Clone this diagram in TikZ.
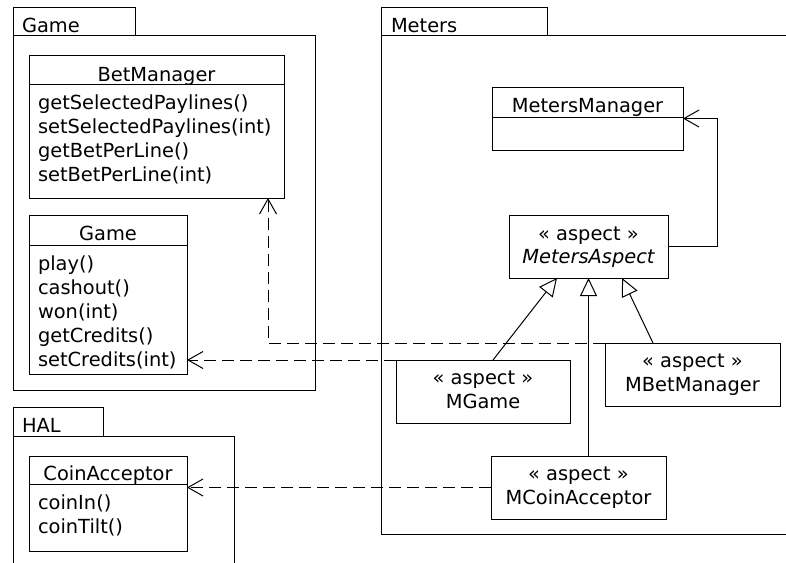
\documentclass[tikz,border=0pt]{standalone}
\usepackage{fontspec}
\setmainfont{DejaVu Sans}
\usetikzlibrary{arrows.meta,calc}
\begin{document}
\begin{tikzpicture}[x=1pt,y=-1pt,
  every node/.style={font=\fontsize{19.4}{24}\selectfont, inner sep=0pt, outer sep=0pt},
  shapebox/.style={draw, line width=1pt, anchor=north west},
  txt/.style={anchor=base},
  meth/.style={anchor=base west},
  ln/.style={line width=1pt},
  dep/.style={line width=1pt, dash pattern=on 12pt off 6pt, -{Straight Barb[length=15pt,width=17pt]}},
  gen/.style={line width=1pt, -{Triangle[open,length=18pt,width=17pt]}}]
\useasboundingbox (0,0) rectangle (786,562);

% packages
\node[shapebox, minimum width=122, minimum height=28] (gtab) at (13,7) {};
\node[shapebox, minimum width=302, minimum height=355] (gpkg) at (13,35) {};
\node[anchor=base west] (gname) at (22,32) {Game};

\node[shapebox, minimum width=166, minimum height=28] (mtab) at (381,7) {};
\node[shapebox, minimum width=430, minimum height=499] (mpkg) at (381,35) {};
\node[anchor=base west] (mname) at (391,32) {Meters};

\node[shapebox, minimum width=90, minimum height=29] (htab) at (13,407) {};
\node[shapebox, minimum width=221, minimum height=150] (hpkg) at (13,436) {};
\node[anchor=base west] (hname) at (22,432) {HAL};

% BetManager
\node[shapebox, minimum width=255, minimum height=143] (bm) at (29,55) {};
\draw[ln] ($(bm.north west)+(0,29)$) -- ($(bm.north east)+(0,29)$);
\node[txt] (bmt) at ($(bm.north)+(0,26)$) {BetManager};
\foreach \t [count=\i] in {getSelectedPaylines(), setSelectedPaylines(int), getBetPerLine(), setBetPerLine(int)}
  \node[meth] (bmm\i) at (38,{109+24*(\i-1)}) {\t};

% Game
\node[shapebox, minimum width=158, minimum height=159] (gm) at (29,215) {};
\draw[ln] ($(gm.north west)+(0,30)$) -- ($(gm.north east)+(0,30)$);
\node[txt] (gmt) at ($(gm.north)+(0,25)$) {Game};
\foreach \t [count=\i] in {play(), cashout(), won(int), getCredits(), setCredits(int)}
  \node[meth] (gmm\i) at (38,{270+24*(\i-1)}) {\t};

% CoinAcceptor
\node[shapebox, minimum width=158, minimum height=95] (ca) at (29,456) {};
\draw[ln] ($(ca.north west)+(0,28)$) -- ($(ca.north east)+(0,28)$);
\node[txt] (cat) at ($(ca.north)+(0,24)$) {CoinAcceptor};
\foreach \t [count=\i] in {coinIn(), coinTilt()}
  \node[meth] (cam\i) at (38,{509+24*(\i-1)}) {\t};

% MetersManager
\node[shapebox, minimum width=191, minimum height=63] (mm) at (492,87) {};
\draw[ln] ($(mm.north west)+(0,30)$) -- ($(mm.north east)+(0,30)$);
\node[txt] (mmt) at ($(mm.north)+(0,25)$) {MetersManager};

% aspects
\node[shapebox, minimum width=159, minimum height=63] (ma) at (509,215) {};
\node[txt] (ma1) at ($(ma.north)+(0,25)$) {« aspect »};
\node[txt] (ma2) at ($(ma.north)+(0,48)$) {\itshape MetersAspect};

\node[shapebox, minimum width=174, minimum height=63] (mg) at (396,360) {};
\node[txt] (mg1) at ($(mg.north)+(0,24)$) {« aspect »};
\node[txt] (mg2) at ($(mg.north)+(0,48)$) {MGame};

\node[shapebox, minimum width=175, minimum height=63] (mbm) at (605,343) {};
\node[txt] (mbm1) at ($(mbm.north)+(0,24)$) {« aspect »};
\node[txt] (mbm2) at ($(mbm.north)+(0,48)$) {MBetManager};

\node[shapebox, minimum width=175, minimum height=63] (mca) at (491,456) {};
\node[txt] (mca1) at ($(mca.north)+(0,24)$) {« aspect »};
\node[txt] (mca2) at ($(mca.north)+(0,48)$) {MCoinAcceptor};

% connectors
\draw[dep] (mg.north west) -- (gm.east |- mg.north west);
\coordinate (bmin) at ($(bm.south east)+(-16,0)$);
\draw[dep] (mbm.north west) -| (bmin);
\draw[dep] (mca.west) -- (ca.east |- mca.west);
\draw[ln, -{Straight Barb[length=15pt,width=17pt]}] (ma.east) -- ++(49,0) |- (mm.east);

\draw[gen] ($(mg.north)+(10,0)$) -- ($(ma.south)+(-31.5,0)$);
\draw[gen] (mca.north -| ma.south) -- (ma.south);
\draw[gen] ($(mbm.north)+(-39.5,0)$) -- ($(ma.south)+(33.5,0)$);
\end{tikzpicture}
\end{document}
